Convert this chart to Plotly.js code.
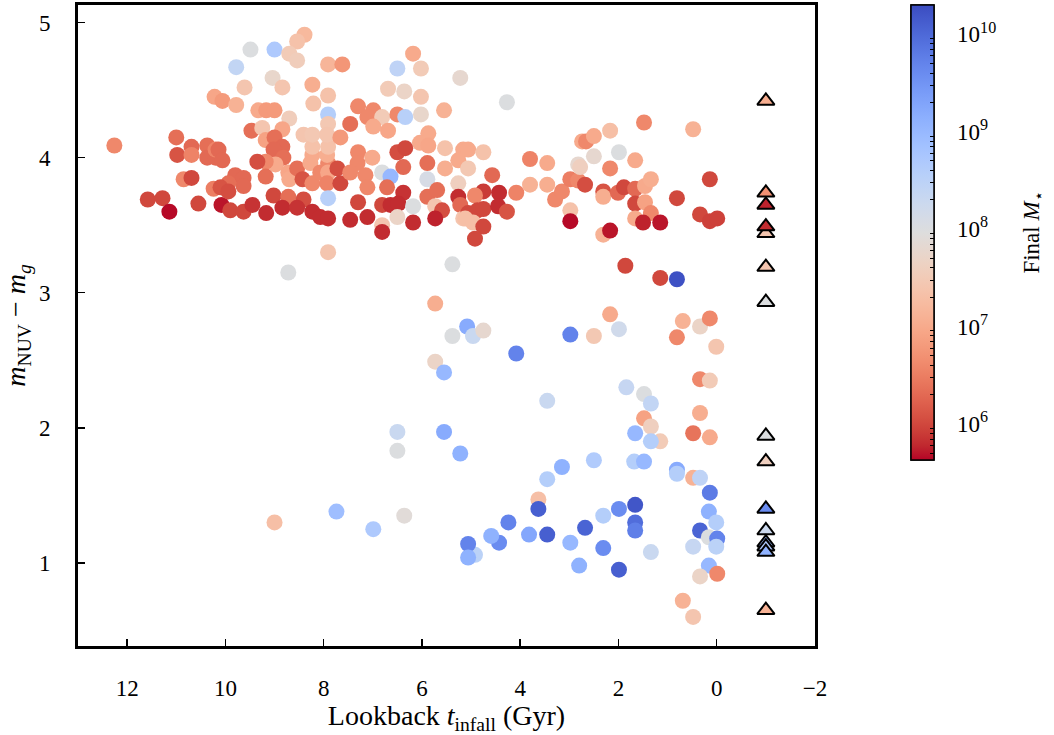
<!DOCTYPE html>
<html>
<head>
<meta charset="utf-8">
<script src="https://cdn.plot.ly/plotly-3.0.1.min.js"></script>
<style>html,body{margin:0;padding:0;background:#fff;}#chart{width:1054px;height:735px;}</style>
</head>
<body>
<div id="chart"></div>
<script>
// Satellites: lookback infall time (Gyr), NUV-g colour, log10 final stellar mass
const tInfall = [
9.49,9.00,8.39,8.54,8.70,8.54,9.78,7.91,7.62,9.04,8.84,9.61,8.23,10.22,10.06,7.91,8.21,6.50,6.18,6.02,5.22,6.69,6.36,6.02,9.78,9.33,9.17,9.00,8.70,7.91,7.91,7.30,6.99,7.11,6.81,6.50,6.34,6.02,5.55,7.46,6.99,6.69,4.27,
12.26,11.00,10.69,10.98,10.69,10.37,10.37,10.20,10.20,10.85,10.69,11.58,11.28,11.14,10.55,10.24,10.08,
9.47,9.25,8.84,9.18,9.00,8.84,9.02,8.82,8.98,9.18,9.35,10.14,10.06,9.80,9.63,9.63,9.94,10.10,9.94,9.18,8.72,8.70,8.54,8.43,8.23,8.27,8.23,8.07,7.91,7.91,7.93,7.91,8.23,7.93,7.72,7.66,8.41,8.23,7.93,7.66,7.91,9.02,8.72,8.41,9.90,9.63,9.45,9.17,8.84,8.54,8.23,8.07,7.91,7.91,
5.87,6.04,5.87,5.53,5.16,7.30,7.01,6.50,6.34,6.38,5.89,5.53,5.26,7.31,7.15,7.46,7.11,6.81,6.64,6.71,6.38,5.89,5.26,5.89,5.69,7.30,6.81,6.64,6.48,6.18,5.73,5.59,5.26,5.22,7.46,7.11,6.50,6.18,5.73,6.81,6.81,5.16,
5.06,4.75,5.06,4.57,3.80,3.45,3.80,3.45,4.08,4.43,4.75,4.92,5.06,4.87,4.75,4.45,4.27,5.12,4.96,4.75,4.92,3.29,3.15,2.98,2.98,2.98,2.74,2.82,2.82,
1.48,0.48,2.66,2.50,2.17,2.50,1.99,2.78,2.17,1.66,2.68,2.31,2.31,2.01,1.89,1.66,1.46,1.34,1.66,1.46,1.66,1.34,1.50,1.15,0.81,0.14,0.34,0.14,-0.01,2.31,2.17,1.86,1.15,0.81,
5.73,2.17,0.69,0.34,0.14,5.38,8.72,5.08,5.38,4.96,4.75,5.73,5.55,4.08,2.98,2.50,1.99,0.81,0.01,0.34,0.14,0.34,0.48,0.14,3.45,1.84,1.48,1.34,1.48,1.34,1.15,1.66,1.34,6.50,6.50,5.55,5.22,2.50,1.68,1.48,0.81,0.81,0.48,0.34,0.14,3.15,3.45,3.63,3.63,4.24,4.43,4.59,4.92,5.06,5.06,3.82,3.45,2.98,2.80,2.68,2.31,2.31,1.99,1.99,1.66,1.66,1.66,1.34,0.34,0.16,0.01,0.16,-0.01,0.01,0.48,0.16,-0.01,0.34,0.69,0.48,9.00,7.74,6.99,6.36
];
const colourNUVg = [
4.80,4.80,4.91,4.86,4.77,4.72,4.67,4.69,4.69,4.59,4.52,4.52,4.54,4.45,4.42,4.46,4.40,4.66,4.77,4.66,4.59,4.51,4.49,4.45,4.39,4.35,4.35,4.35,4.29,4.32,4.25,4.38,4.35,4.30,4.30,4.32,4.30,4.32,4.35,4.25,4.23,4.20,4.41,
4.09,4.15,4.08,4.02,4.02,4.09,4.00,4.00,4.06,3.84,3.85,3.69,3.70,3.60,3.66,3.77,3.65,
4.20,4.22,4.21,4.13,4.15,4.08,4.06,4.00,3.95,3.97,3.97,4.06,3.98,3.87,3.85,3.79,3.81,3.78,3.75,3.86,3.89,3.84,3.92,3.84,3.81,3.96,4.02,3.89,3.96,3.89,4.02,4.08,4.08,3.81,3.92,3.81,4.17,4.17,4.17,4.15,3.70,3.72,3.71,3.69,3.61,3.60,3.65,3.59,3.63,3.63,3.60,3.56,3.55,3.30,
4.18,4.11,4.09,4.07,4.06,4.04,4.00,4.04,4.07,3.93,3.96,3.92,3.98,3.96,3.87,3.89,3.78,3.89,3.86,3.78,3.74,3.84,3.81,3.71,3.76,3.67,3.65,3.65,3.66,3.64,3.64,3.61,3.71,3.65,3.54,3.56,3.56,3.52,3.55,3.50,3.45,3.55,
4.06,4.04,3.92,3.87,3.99,3.96,3.80,3.80,3.74,3.74,3.75,3.72,3.59,3.61,3.62,3.64,3.60,3.55,3.52,3.49,3.40,3.69,3.75,3.84,3.61,3.53,4.12,3.95,3.83,
4.26,4.21,4.12,4.16,4.20,4.01,4.04,3.93,3.92,3.98,3.80,3.75,3.71,3.74,3.78,3.77,3.79,3.84,3.66,3.67,3.55,3.59,3.52,3.52,3.70,3.84,3.58,3.53,3.55,3.43,3.46,3.20,3.11,3.10,
2.92,2.84,2.79,2.75,2.81,3.21,3.15,2.75,2.68,2.68,2.72,2.49,2.41,2.55,2.69,2.68,2.73,2.67,2.60,2.36,2.35,2.11,1.96,1.93,2.20,2.30,2.25,2.18,2.07,2.01,1.90,1.96,1.90,1.97,1.83,1.97,1.81,1.76,1.75,1.75,1.69,1.66,1.63,1.63,1.52,1.71,1.62,1.47,1.40,1.30,1.15,1.20,1.06,1.14,1.04,1.21,1.21,1.15,0.98,1.26,1.35,1.11,1.40,0.95,1.43,1.30,1.24,1.08,1.24,1.38,1.30,1.19,1.18,1.12,1.12,0.98,0.92,0.90,0.72,0.60,1.30,1.38,1.25,1.35
];
const logMass = [
8.0,8.7,7.2,7.35,7.5,7.55,8.4,7.15,6.75,7.75,7.4,7.4,7.05,6.95,6.8,7.35,7.35,8.45,7.0,7.5,7.8,7.5,7.7,7.4,7.1,7.0,6.8,6.8,7.55,8.6,7.45,6.6,6.6,6.6,7.5,6.6,8.55,7.75,7.1,6.35,7.0,6.95,8.0,
6.6,6.35,6.3,6.1,6.55,6.35,6.3,6.3,6.55,6.6,6.0,6.0,6.0,5.65,6.0,6.5,5.7,
6.35,7.4,6.95,6.9,6.35,6.3,6.3,6.35,7.0,6.6,6.05,6.3,6.3,6.3,6.3,6.3,6.35,6.1,6.05,6.35,6.95,7.0,6.35,6.1,6.6,7.0,7.0,6.6,6.6,6.95,7.05,7.35,7.35,6.55,6.05,6.0,7.4,7.45,7.4,6.8,8.55,6.0,6.35,6.05,6.0,6.0,5.85,5.8,5.8,5.85,5.8,5.8,5.8,7.4,
7.0,7.0,6.95,7.35,7.0,6.6,7.0,6.05,6.0,6.3,6.35,7.05,7.0,6.6,6.6,6.6,6.6,8.0,9.0,6.35,5.85,8.1,7.6,6.35,6.35,6.0,6.0,5.8,5.8,8.0,7.4,6.05,5.8,6.3,5.8,5.8,7.7,5.8,5.75,7.4,5.8,7.4,
7.0,7.35,7.45,6.3,6.55,7.0,7.1,7.05,6.55,5.8,5.9,6.6,6.0,6.0,6.0,5.8,6.1,7.3,7.3,6.0,6.0,6.6,6.6,6.5,7.35,5.65,7.0,7.8,6.6,
6.6,7.1,6.6,7.0,7.3,7.8,8.0,7.6,6.6,7.0,6.05,6.1,7.05,6.3,6.0,6.3,7.0,7.05,6.0,6.9,7.0,6.6,5.75,5.7,6.0,6.0,6.0,5.95,5.95,7.1,5.7,6.0,6.0,10.25,
7.05,7.0,7.1,7.7,6.6,8.0,8.0,9.2,8.0,8.3,7.8,7.7,9.0,9.7,9.7,7.45,8.2,6.6,7.4,6.6,7.5,7.05,6.4,7.0,8.3,8.35,8.0,8.4,6.9,7.6,7.5,9.0,8.6,8.3,8.0,9.2,9.1,8.65,8.6,9.0,9.2,8.6,7.1,8.45,9.8,9.1,8.6,7.3,10.1,9.7,9.6,9.1,8.5,9.7,9.1,9.25,10.1,9.0,9.1,10.05,8.6,9.6,9.6,10.1,10.2,9.95,9.75,8.3,10.05,9.1,8.6,8.0,9.7,8.5,8.35,9.0,6.6,7.7,7.1,7.4,7.3,8.9,8.7,7.9
];
// Triangles (drawn at t = -1)
const triT = [-1,-1,-1,-1,-1,-1,-1,-1,-1,-1,-1,-1,-1,-1,-1];
const triColour = [4.42,3.74,3.44,3.65,3.49,3.19,2.93,1.94,1.75,1.40,1.24,1.15,1.12,1.08,0.65];
const triLogMass = [7.05,6.7,7.4,5.75,5.8,7.4,8.0,8.0,7.6,9.6,8.25,9.0,8.7,9.1,7.1];

// Colour bar ticks (log10 of final stellar mass)
const cbMajorVals = [6,7,8,9,10];
const cbMajorText = ['10<sup>6</sup>','10<sup>7</sup>','10<sup>8</sup>','10<sup>9</sup>','10<sup>10</sup>'];
const cbMinorVals = [];
for (let d = 5; d <= 10; d++) for (let m = 2; m <= 9; m++) { const v = d + Math.log10(m); if (v > 5.63 && v < 10.3) cbMinorVals.push(v); }

// coolwarm (reversed: red = low mass, blue = high mass)
const cw = [[59,76,192],[68,90,204],[77,104,215],[87,117,225],[98,130,234],[108,142,241],[119,154,247],[130,165,251],[141,176,254],[152,185,255],[163,194,255],[174,201,253],[184,208,249],[194,213,244],[204,217,238],[213,219,230],[221,221,221],[229,216,209],[236,211,197],[241,204,185],[245,196,173],[247,187,160],[247,177,148],[247,166,135],[244,154,123],[241,141,111],[236,127,99],[229,112,88],[222,96,77],[213,80,66],[203,62,56],[192,40,47],[180,4,38]];
const cscale = cw.map((c,i)=>[i/(cw.length-1), 'rgb('+cw[cw.length-1-i].join(',')+')']);

const CMIN = 5.63, CMAX = 10.30;
const FONT = 'Liberation Serif, DejaVu Serif, serif';
const LEAD = '\u00A0\u00A0\u00A0';
const TRAIL = '\u00A0\u00A0\u00A0\u00A0\u00A0';

const cbBase = {
  thickness: 23, thicknessmode: 'pixels', len: 455, lenmode: 'pixels',
  x: 1.1303, xanchor: 'left', xpad: 0, y: 1.0, yanchor: 'top', ypad: 0,
  outlinewidth: 1.5, outlinecolor: '#000', ticks: 'inside', tickcolor: '#000',
  tickmode: 'array', tickfont: {family: FONT, size: 23, color: '#000'}
};

const circles = {
  type: 'scatter', mode: 'markers', x: tInfall, y: colourNUVg,
  marker: {
    size: 16, color: logMass, colorscale: cscale, cmin: CMIN, cmax: CMAX,
    line: {width: 0},
    colorbar: Object.assign({}, cbBase, {
      tickvals: cbMajorVals, ticktext: cbMajorText.map(t => LEAD + t + TRAIL), ticklen: 7, tickwidth: 1.5,
      title: {text: 'Final <i>M</i><sub>⋆</sub>', side: 'right', font: {family: FONT, size: 23, color: '#000'}}
    })
  },
  hoverinfo: 'skip', showlegend: false
};
const tris = {
  type: 'scatter', mode: 'markers', x: triT, y: triColour,
  marker: {
    symbol: 'triangle-up', size: 15, color: triLogMass, colorscale: cscale, cmin: CMIN, cmax: CMAX,
    line: {width: 2, color: '#000'},
    colorbar: Object.assign({}, cbBase, {
      tickvals: cbMinorVals, ticklen: 4, tickwidth: 1, showticklabels: false
    })
  },
  hoverinfo: 'skip', showlegend: false
};

const layout = {
  width: 1054, height: 735,
  margin: {l: 78, r: 239, t: 5, b: 89, autoexpand: false},
  paper_bgcolor: '#fff', plot_bgcolor: '#fff',
  font: {family: FONT, color: '#000', size: 23},
  showlegend: false,
  xaxis: {
    range: [13, -2], tickvals: [12,10,8,6,4,2,0,-2], ticks: 'inside', ticklen: 7, tickwidth: 1.5, tickcolor: '#000',
    showline: true, linewidth: 3, linecolor: '#000', mirror: true, showgrid: false, zeroline: false,
    ticklabelstandoff: 19,
    tickfont: {family: FONT, size: 23, color: '#000'},
    title: {text: 'Lookback <i>t</i><sub>infall</sub> (Gyr)', font: {family: FONT, size: 28, color: '#000'}, standoff: 7}
  },
  yaxis: {
    range: [0.385, 5.13], tickvals: [1,2,3,4,5], ticks: 'inside', ticklen: 7, tickwidth: 1.5, tickcolor: '#000',
    showline: true, linewidth: 3, linecolor: '#000', mirror: true, showgrid: false, zeroline: false,
    ticklabelstandoff: 20,
    tickfont: {family: FONT, size: 23, color: '#000'},
    title: {text: '<i>m</i><sub>NUV</sub> − <i>m</i><sub><i>g</i></sub>', font: {family: FONT, size: 28, color: '#000'}, standoff: 6}
  }
};

Plotly.newPlot('chart', [circles, tris], layout, {staticPlot: true, displayModeBar: false});
</script>
</body>
</html>
